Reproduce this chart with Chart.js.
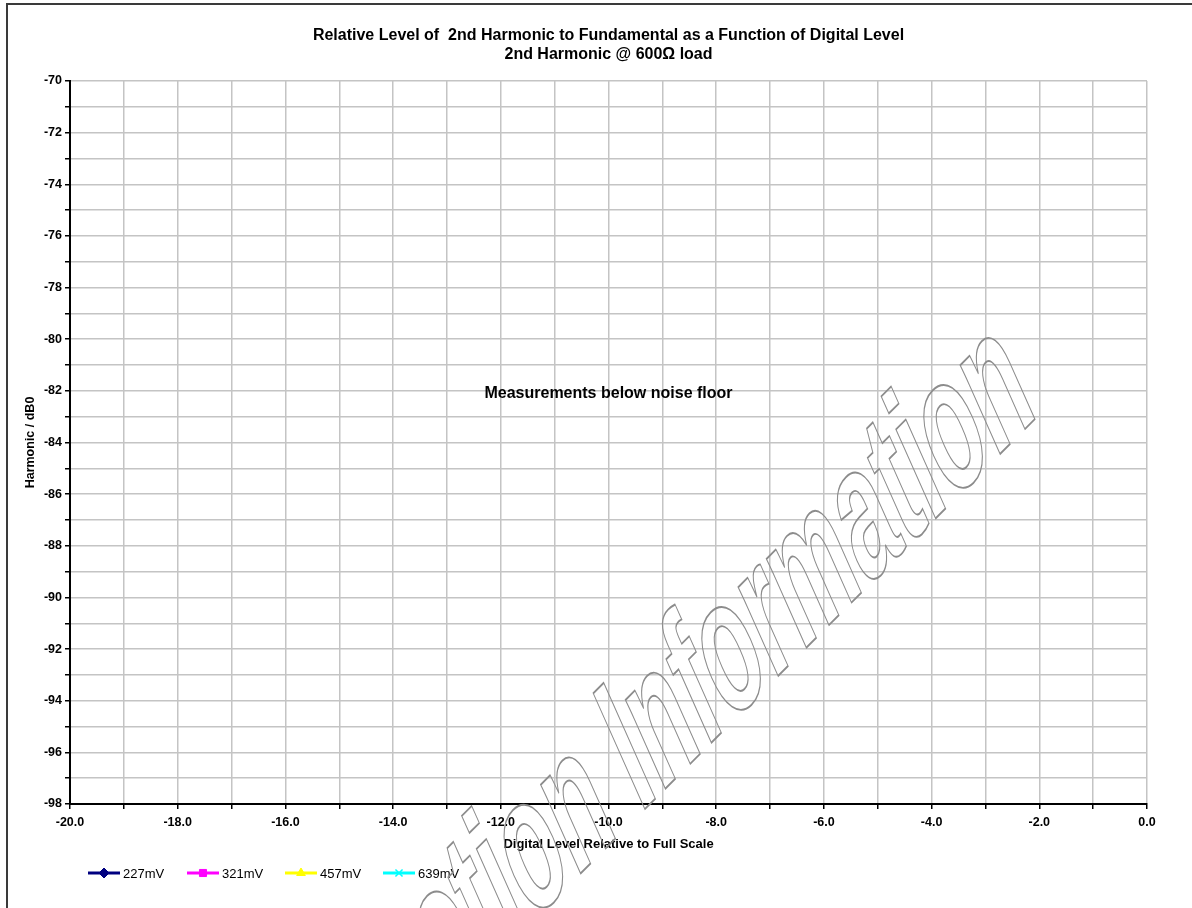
<!DOCTYPE html>
<html>
<head>
<meta charset="utf-8">
<title>2nd Harmonic @ 600 Ohm load</title>
<script src="https://cdn.jsdelivr.net/npm/chart.js"></script>
<style>
  html, body { margin: 0; padding: 0; background: #fff; overflow: hidden; }
  #wrap { position: relative; width: 1192px; height: 908px; overflow: hidden; }
  #frame { position: absolute; left: 6px; top: 3px; width: 1300px; height: 1000px; border: 2px solid #3a3a3a; }
  #myChart { position: absolute; left: 0; top: 0; }
</style>
</head>
<body>
<div id="wrap">
  <div id="frame"></div>
  <canvas id="myChart" width="1192" height="908"></canvas>
</div>
<script>
// data (no points plotted - below noise floor)
const titleLines = ['Relative Level of  2nd Harmonic to Fundamental as a Function of Digital Level', '2nd Harmonic @ 600\u03A9 load']
const xTitle = 'Digital Level Relative to Full Scale'
const yTitle = 'Harmonic / dB0'
const noteText = 'Measurements below noise floor'
const notePos = [-10, -82.1]
const xRange = [-20, 0]
const yRange = [-98, -70]
const seriesNames = ['227mV', '321mV', '457mV', '639mV']
const seriesColors = ['#000080', '#FF00FF', '#FFFF00', '#00FFFF']
const seriesMarkers = ['rectRot', 'rect', 'triangle', 'crossRot']
const s227 = []
const s321 = []
const s457 = []
const s639 = []
const seriesData = [s227, s321, s457, s639]
const watermark = ['Production ', 'Information']

const FONT = "'Liberation Sans', Arial, sans-serif"

let datasets = []
for (let i = 0; i < seriesNames.length; i++) {
    datasets.push({
        label: seriesNames[i],
        data: seriesData[i],
        borderColor: seriesColors[i],
        backgroundColor: seriesColors[i],
        borderWidth: 3,
        pointStyle: seriesMarkers[i],
        pointRadius: 5,
    })
}

// title, note, legend and watermark
const extras = {
    id: 'extras',
    afterDraw(chart) {
        const ctx = chart.ctx
        const area = chart.chartArea
        const xs = chart.scales.x
        const ys = chart.scales.y
        const cx = (area.left + area.right) / 2
        ctx.save()
        ctx.fillStyle = '#000'
        ctx.textAlign = 'center'
        ctx.textBaseline = 'middle'
        ctx.font = 'bold 16px ' + FONT
        ctx.fillText(titleLines[0], cx, 36)
        ctx.fillText(titleLines[1], cx, 55)

        ctx.font = 'bold 16px ' + FONT
        ctx.fillText(noteText, xs.getPixelForValue(notePos[0]), ys.getPixelForValue(notePos[1]))

        // legend
        const lx = [88, 187, 285, 383]
        const ly = 873
        ctx.font = '13px ' + FONT
        ctx.textAlign = 'left'
        chart.data.datasets.forEach((ds, i) => {
            ctx.strokeStyle = ds.borderColor
            ctx.fillStyle = ds.backgroundColor
            ctx.lineWidth = 3
            ctx.beginPath()
            ctx.moveTo(lx[i], ly)
            ctx.lineTo(lx[i] + 32, ly)
            ctx.stroke()
            ctx.lineWidth = ds.pointStyle === 'crossRot' ? 1.5 : 1
            Chart.helpers.drawPoint(ctx, { pointStyle: ds.pointStyle, radius: 5, rotation: 0, borderWidth: ctx.lineWidth }, lx[i] + 16, ly)
            ctx.fillStyle = '#000'
            ctx.fillText(ds.label, lx[i] + 35, ly + 1)
        })
        ctx.restore()

        // watermark outline text
        ctx.save()
        const F = 100
        ctx.font = 'bold ' + F + 'px ' + FONT
        const w = ctx.measureText(watermark[1]).width
        const sx = 565 / w
        const sy = 132 / (0.716 * F)
        const u = [0.707, -0.707]
        const v = [0.407, 0.913]
        ctx.setTransform(u[0] * sx, u[1] * sx, v[0] * sy, v[1] * sy, 640, 814)
        ctx.strokeStyle = '#8c8c8c'
        ctx.lineWidth = 1.4 / Math.sqrt(sx * sy)
        ctx.textBaseline = 'alphabetic'
        ctx.textAlign = 'left'
        ctx.strokeText(watermark[1], 0, 0)
        ctx.textAlign = 'right'
        ctx.strokeText(watermark[0], 0, 0)
        ctx.restore()
    }
}

const ctx = document.getElementById('myChart')

const chart = new Chart(ctx, {
    type: 'line',
    data: { datasets: datasets },
    options: {
        responsive: false,
        animation: false,
        devicePixelRatio: 1,
        layout: { padding: { left: 0, top: 81, right: 45, bottom: 54 } },
        plugins: {
            legend: { display: false },
            title: { display: false },
            tooltip: { enabled: false },
        },
        scales: {
            x: {
                type: 'linear',
                min: xRange[0],
                max: xRange[1],
                afterFit: (scale) => { scale.height = 50 },
                ticks: {
                    stepSize: 1,
                    autoSkip: false,
                    maxRotation: 0,
                    padding: 6,
                    color: '#000',
                    font: { family: FONT, size: 12.5, weight: 'bold' },
                    callback: (v) => (v % 2 === 0 ? v.toFixed(1) : ''),
                },
                grid: { color: '#c4c4c4', lineWidth: 1.5, tickColor: '#000', tickLength: 5 },
                border: { color: '#000', width: 2 },
                title: {
                    display: true,
                    text: xTitle,
                    color: '#000',
                    font: { family: FONT, size: 13, weight: 'bold' },
                    padding: { top: 0, bottom: 2 },
                },
            },
            y: {
                type: 'linear',
                min: yRange[0],
                max: yRange[1],
                afterFit: (scale) => { scale.width = 70 },
                ticks: {
                    stepSize: 1,
                    autoSkip: false,
                    padding: 3,
                    color: '#000',
                    font: { family: FONT, size: 12.5, weight: 'bold' },
                    callback: (v) => (v % 2 === 0 ? String(v) : ''),
                },
                grid: { color: '#c4c4c4', lineWidth: 1.5, tickColor: '#000', tickLength: 5 },
                border: { color: '#000', width: 2 },
                title: {
                    display: true,
                    text: yTitle,
                    color: '#000',
                    font: { family: FONT, size: 12.5, weight: 'bold' },
                    padding: { top: 23, bottom: 0 },
                },
            },
        },
    },
    plugins: [extras],
});
</script>
</body>
</html>
